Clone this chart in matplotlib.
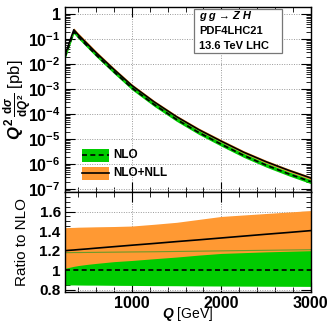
import numpy as np
import matplotlib
matplotlib.use('Agg')
import matplotlib.pyplot as plt
from matplotlib.patches import Rectangle
from matplotlib.ticker import FixedLocator, LogLocator, MultipleLocator, FuncFormatter, NullFormatter

plt.rcParams['font.family'] = ['Liberation Sans', 'DejaVu Sans']
plt.rcParams['font.weight'] = 'bold'
plt.rcParams['mathtext.fontset'] = 'custom'
plt.rcParams['mathtext.rm'] = 'Liberation Sans:bold'
plt.rcParams['mathtext.it'] = 'Liberation Sans:italic:bold'
plt.rcParams['mathtext.bf'] = 'Liberation Sans:bold'

# invariant mass Q [GeV]
Q = [250, 300, 350, 400, 500, 600, 800, 1000, 1250, 1500, 1750, 2000, 2250, 2500, 2750, 3000]
# NLO+NLL central, log10 of Q^2 dsigma/dQ^2 [pb]
nll_log = [-1.65, -1.13, -0.62, -0.82, -1.18, -1.54, -2.21, -2.85, -3.51, -4.10,
           -4.62, -5.08, -5.52, -5.90, -6.24, -6.55]
# ratio to NLO central
nll_ratio = [1.200, 1.204, 1.207, 1.211, 1.218, 1.226, 1.241, 1.256, 1.274, 1.293,
             1.311, 1.330, 1.349, 1.368, 1.386, 1.405]
nll_lo = [1.020, 1.030, 1.040, 1.048, 1.060, 1.070, 1.088, 1.100, 1.118, 1.135,
          1.155, 1.172, 1.180, 1.188, 1.194, 1.200]
nll_hi = [1.435, 1.437, 1.438, 1.440, 1.442, 1.444, 1.447, 1.452, 1.470, 1.490,
          1.520, 1.550, 1.565, 1.580, 1.595, 1.610]
nlo_lo = [0.850, 0.850, 0.850, 0.849, 0.848, 0.848, 0.846, 0.845, 0.843, 0.842,
          0.840, 0.839, 0.838, 0.837, 0.836, 0.835]
nlo_hi = [1.180, 1.180, 1.181, 1.181, 1.182, 1.183, 1.185, 1.187, 1.189, 1.192,
          1.195, 1.198, 1.201, 1.204, 1.207, 1.210]

Q = np.array(Q)
nll = 10 ** np.array(nll_log)
nlo = nll / np.array(nll_ratio)

green = '#00cc00'
orange = '#ff9933'

fig = plt.figure(figsize=(3.31, 3.21), dpi=100)
ax = fig.add_axes([0.196, 0.402, 0.743, 0.577])
rax = fig.add_axes([0.196, 0.091, 0.743, 0.311], sharex=ax)

# upper panel
ax.fill_between(Q, nlo * np.array(nll_lo), nlo * np.array(nll_hi), color=orange, lw=0, zorder=2)
ax.fill_between(Q, nlo * np.array(nlo_lo), nlo * np.array(nlo_hi), color=green, lw=0, zorder=3)
ax.plot(Q, nll, color='black', lw=1.2, zorder=4)
ax.plot(Q, nlo, color='black', lw=1.2, ls=(0, (3, 2)), zorder=4)
ax.set_yscale('log')
ax.set_ylim(7.8e-8, 2.0)
ax.set_xlim(250, 3000)

def log_fmt(v, pos):
    e = int(round(np.log10(v)))
    if e == 0:
        return '1'
    return '10$^{%d}$' % e

ax.yaxis.set_major_locator(LogLocator(base=10, numticks=20))
ax.yaxis.set_major_formatter(FuncFormatter(log_fmt))
ax.yaxis.set_minor_locator(LogLocator(base=10, subs=np.arange(2, 10), numticks=20))
ax.yaxis.set_minor_formatter(NullFormatter())
ax.set_ylabel(r'$Q^{2}\,\frac{\mathrm{d}\sigma}{\mathrm{d}Q^{2}}$ [pb]', fontsize=12)
ax.yaxis.set_label_coords(-0.125, 0.5)
ax.tick_params(axis='x', labelbottom=False)

# legend drawn as boxes with a line through them
leg_y = [0.197, 0.101]
leg_style = [(green, (0, (3, 2))), (orange, '-')]
for (col, ls), yc, lab in zip(leg_style, leg_y, ['NLO', 'NLO+NLL']):
    ax.add_patch(Rectangle((0.07, yc - 0.034), 0.108, 0.068, transform=ax.transAxes,
                           facecolor=col, edgecolor='none', zorder=6))
    ax.plot([0.07, 0.178], [yc, yc], transform=ax.transAxes, color='black', lw=1.2,
            ls=ls, zorder=7)
    ax.text(0.195, yc, lab, transform=ax.transAxes, va='center', ha='left', fontsize=8.5,
            zorder=7)

# info box
ax.add_patch(Rectangle((0.524, 0.750), 0.358, 0.238, transform=ax.transAxes,
                       facecolor='white', edgecolor='#777777', lw=0.9, zorder=6))
ax.text(0.545, 0.950, 'g g → Z H', transform=ax.transAxes, va='center', ha='left',
        fontsize=8, style='italic', zorder=7)
ax.text(0.545, 0.869, 'PDF4LHC21', transform=ax.transAxes, va='center', ha='left',
        fontsize=8, zorder=7)
ax.text(0.545, 0.790, '13.6 TeV LHC', transform=ax.transAxes, va='center', ha='left',
        fontsize=8, zorder=7)

# ratio panel
rax.fill_between(Q, nlo_lo, nlo_hi, color=green, lw=0, zorder=2)
rax.fill_between(Q, nll_lo, nll_hi, color=orange, lw=0, zorder=3)
rax.plot(Q, nlo_hi, color='#6a9a2a', lw=0.8, zorder=3.5)
rax.plot(Q, nll_ratio, color='black', lw=1.2, zorder=4)
rax.axhline(1.0, color='black', lw=1.2, ls=(0, (3, 2)), zorder=4)
rax.set_ylim(0.78, 1.80)
rax.yaxis.set_major_locator(FixedLocator([0.8, 1.0, 1.2, 1.4, 1.6]))
rax.yaxis.set_major_formatter(FuncFormatter(lambda v, p: '%g' % v))
rax.yaxis.set_minor_locator(MultipleLocator(0.05))
rax.set_ylabel('Ratio to NLO', fontsize=11)
rax.yaxis.set_label_coords(-0.146, 0.5)
rax.set_xlabel('$Q$ [GeV]', fontsize=10, labelpad=-4)

for a in (ax, rax):
    a.xaxis.set_major_locator(FixedLocator([1000, 2000, 3000]))
    a.xaxis.set_minor_locator(MultipleLocator(200))
    a.tick_params(which='both', direction='in', top=True, right=True, labelsize=11.5)
    a.tick_params(which='major', length=7, width=0.8, pad=3)
    a.tick_params(which='minor', length=3.5, width=0.6)
    a.grid(True, which='major', ls=(0, (1, 1.5)), color='#999999', lw=0.7, zorder=1)
    a.set_axisbelow(True)
    for s in a.spines.values():
        s.set_linewidth(1.0)
        s.set_zorder(5)
rax.tick_params(axis='y', labelsize=11)

fig.savefig('out.png', dpi=100)
